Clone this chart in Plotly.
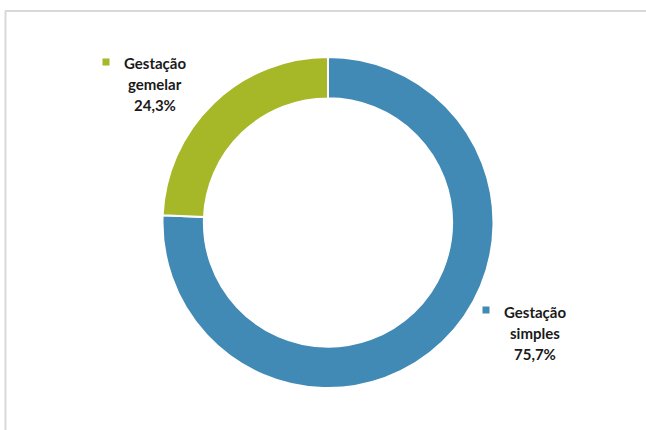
import plotly.graph_objects as go

categories = ["Gestação simples", "Gestação gemelar"]
values = [75.7, 24.3]
colors = ["#418AB5", "#A6B727"]

W, H = 646, 430

def px(x):
    return x / W

def py(y):
    return 1 - y / H

fig = go.Figure(go.Pie(
    labels=categories,
    values=values,
    hole=0.75,
    sort=False,
    direction="clockwise",
    rotation=0,
    marker=dict(colors=colors, line=dict(color="white", width=2)),
    textinfo="none",
    hoverinfo="label+percent",
    showlegend=False,
    domain=dict(x=[px(162.5), px(493.5)], y=[1 - 388 / H, 1 - 57 / H]),
))

# label positions (pixel centres of text lines and marker)
label_pos = {
    "Gestação gemelar": dict(tx=155, ty=[63, 84, 105], mx=106, my=62),
    "Gestação simples": dict(tx=535, ty=[312, 333, 354], mx=486, my=310),
}

annotations = []
shapes = []
for cat, val, col in zip(categories, values, colors):
    p = label_pos[cat]
    word1, word2 = cat.split(" ")
    lines = [word1, word2, f"{str(val).replace('.', ',')}%"]
    for line, ty in zip(lines, p["ty"]):
        annotations.append(dict(
            x=px(p["tx"]), y=py(ty), xref="paper", yref="paper",
            text=line, showarrow=False, align="center",
            xanchor="center", yanchor="middle",
            font=dict(family="Lato", size=15, color="#1A1A1A", weight="bold"),
        ))
    shapes.append(dict(
        type="rect", xref="paper", yref="paper",
        x0=px(p["mx"] - 3.5), x1=px(p["mx"] + 3.5),
        y0=py(p["my"] + 3.5), y1=py(p["my"] - 3.5),
        fillcolor=col, line=dict(width=0),
    ))

# chart-area border (top and left visible)
shapes.append(dict(type="line", xref="paper", yref="paper",
                   x0=px(5), x1=1, y0=py(11), y1=py(11),
                   line=dict(color="#D9D9D9", width=2)))
shapes.append(dict(type="line", xref="paper", yref="paper",
                   x0=px(5.5), x1=px(5.5), y0=py(11), y1=0,
                   line=dict(color="#D9D9D9", width=2)))

fig.update_layout(
    width=W, height=H,
    margin=dict(l=0, r=0, t=0, b=0),
    paper_bgcolor="white",
    plot_bgcolor="white",
    annotations=annotations,
    shapes=shapes,
)

fig.write_html(
    "out.html",
    config={"displayModeBar": False},
    post_script="document.body.style.margin='0';document.body.style.overflow='hidden';",
)
